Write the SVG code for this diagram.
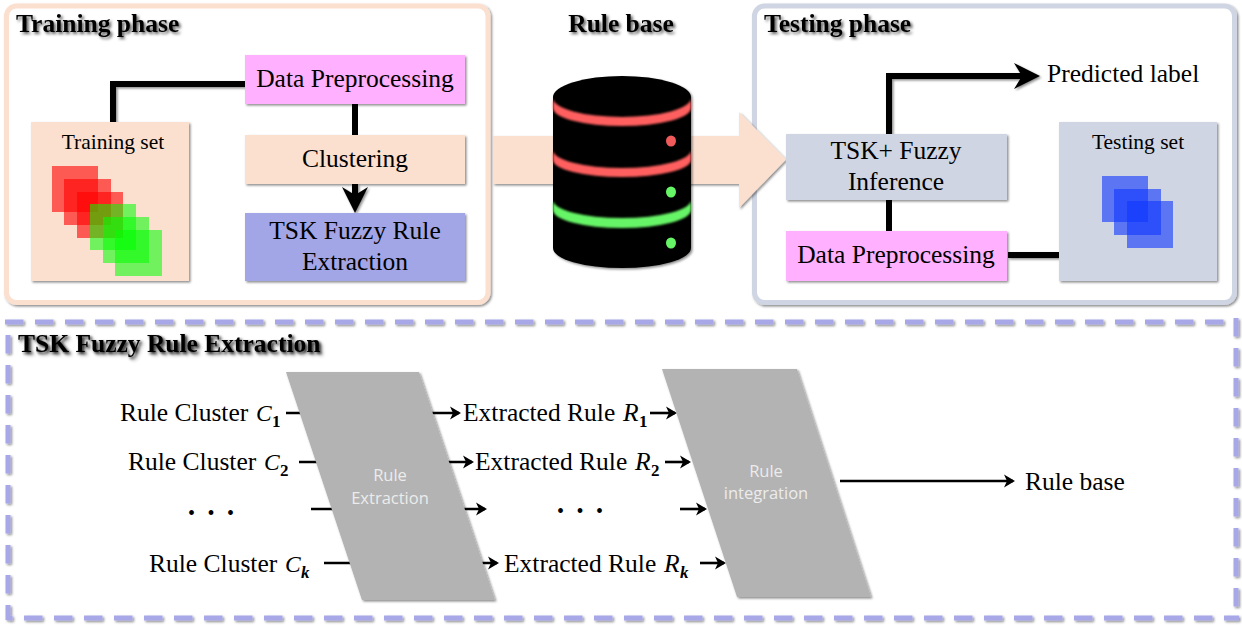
<svg xmlns="http://www.w3.org/2000/svg" width="1242" height="625" viewBox="0 0 1242 625">
<style>
text{font-family:"Liberation Serif","Times New Roman",serif;fill:#000}
.l{font-size:25.500px}
.m{text-anchor:middle}
.s{font-size:21.500px}
.t{font-size:25.500px;font-weight:bold;filter:url(#ts)}
.i{font-style:italic}
.c{font-style:italic;font-size:23.500px}
.u{font-size:17px;font-weight:bold}
.w{font-family:"Open Sans","Noto Sans",sans-serif;font-size:16.500px;fill:#ececec;text-anchor:middle}
.d{font-size:20px;word-spacing:7.500px;text-anchor:middle}
.ph{fill:#fff;stroke-width:5}
.b{filter:url(#sh)}
.pk{fill:#ffb0ff}.pe{fill:#fbe0d0}.bl{fill:#a3a6e6}.gy{fill:#cfd5e2}.pa{fill:#b3b3b3}
.th{fill:none;stroke:#000;stroke-width:6}
.tn{fill:none;stroke:#000;stroke-width:2.600}
.ah{marker-end:url(#sa)}
.bh{marker-end:url(#ba)}
.da{fill:none;stroke:#a8a8e8;stroke-width:5;stroke-dasharray:18.500 11.500}
</style>
<defs>
<filter id="sh" filterUnits="userSpaceOnUse" x="0" y="0" width="1242" height="625"><feDropShadow dx="1.500" dy="1.500" stdDeviation="1" flood-color="#000" flood-opacity=".45"/></filter>
<filter id="ts" filterUnits="userSpaceOnUse" x="0" y="0" width="1242" height="625"><feDropShadow dx="2" dy="2" stdDeviation="1.500" flood-color="#000" flood-opacity=".65"/></filter>
<filter id="bb" filterUnits="userSpaceOnUse" x="0" y="0" width="1242" height="625"><feGaussianBlur stdDeviation=".9"/></filter>
<marker id="sa" markerUnits="userSpaceOnUse" markerWidth="14" markerHeight="14" viewBox="0 -7 14 14" refX="9" refY="0" orient="auto"><path d="M0,-6.500L11,0L0,6.500L3,0Z" fill="#000"/></marker>
<marker id="ba" markerUnits="userSpaceOnUse" markerWidth="28" markerHeight="28" viewBox="0 -14 28 28" refX="18" refY="0" orient="auto"><path d="M0,-13L26,0L0,13L8,0Z" fill="#000"/></marker>
</defs>

<g id="training-phase">
<rect class="ph b" x="6.500" y="6" width="481.500" height="296.500" rx="10" stroke="#fbe0d0"/>
<text class="t" x="16" y="32">Training phase</text>
</g>
<g id="testing-phase">
<rect class="ph b" x="754.500" y="6" width="480" height="296.500" rx="10" stroke="#cfd5e2"/>
<text class="t" x="764" y="32">Testing phase</text>
</g>
<g id="flow-arrow">
<path class="pe b" d="M493,136H739V112L786,159.500L739,208V184H493Z"/>
</g>

<g id="connectors">
<path class="th b" d="M245,84H113V122"/>
<path class="th" d="M355,104V135"/>
<path class="th bh b" d="M355,184V205"/>
<path class="th bh b" d="M889,134V76H1032"/>
<path class="th" d="M889,200V231"/>
<path class="th b" d="M1059,255H1008"/>
<path class="tn ah" d="M286,413H459"/>
<path class="tn ah" d="M299,462H472"/>
<path class="tn ah" d="M311,509H485"/>
<path class="tn ah" d="M324,563H497"/>
<path class="tn ah" d="M650,413H675"/>
<path class="tn ah" d="M665,462H689"/>
<path class="tn ah" d="M680,509H705"/>
<path class="tn ah" d="M700,563H724"/>
<path class="tn ah" d="M840,481H1013"/>
</g>

<g id="training-set">
<rect class="pe b" x="31" y="122" width="158" height="159"/>
<text class="s m" x="113" y="149">Training set</text>
<g fill="#f00" fill-opacity=".6">
<rect x="52" y="166" width="46" height="46"/><rect x="64" y="179" width="47" height="46"/><rect x="77" y="192" width="46" height="46"/>
</g>
<g fill="#0f0" fill-opacity=".55">
<rect x="90" y="204" width="46" height="46"/><rect x="103" y="217" width="46" height="46"/><rect x="115" y="230" width="47" height="46"/>
</g>
</g>
<g id="data-preprocessing-train">
<rect class="pk b" x="245" y="55" width="220" height="49"/>
<text class="l m" x="355" y="87">Data Preprocessing</text>
</g>
<g id="clustering">
<rect class="pe b" x="245" y="135" width="220" height="49"/>
<text class="l m" x="355" y="167">Clustering</text>
</g>
<g id="tsk-extraction">
<rect class="bl b" x="245" y="213" width="220" height="68"/>
<text class="l m" x="355" y="239">TSK Fuzzy Rule</text>
<text class="l m" x="355" y="270">Extraction</text>
</g>

<g id="rule-base">
<text class="t m" x="621" y="32">Rule base</text>
<path class="b" fill="#000" d="M553,97A69,21 0 0 1 691,97V248A69,20 0 0 1 553,248Z"/>
<path fill="#ff5f5f" filter="url(#bb)" d="M553,98A69,19 0 0 0 691,98V108A69,18 0 0 1 553,108Z"/>
<path fill="#ff5f5f" filter="url(#bb)" d="M553,150A69,18 0 0 0 691,150V160A69,17 0 0 1 553,160Z"/>
<path fill="#66f566" filter="url(#bb)" d="M553,200A69,18 0 0 0 691,200V210A69,18 0 0 1 553,210Z"/>
<ellipse cx="671" cy="141" rx="5" ry="5.500" fill="#f05a5a"/>
<ellipse cx="671" cy="192" rx="5" ry="5.500" fill="#66f566"/>
<ellipse cx="671" cy="243" rx="5" ry="5.500" fill="#66f566"/>
</g>

<g id="predicted-label"><text class="l" x="1047" y="82">Predicted label</text></g>
<g id="tsk-inference">
<rect class="gy b" x="786" y="134" width="221" height="66"/>
<text class="l m" x="896" y="159">TSK+ Fuzzy</text>
<text class="l m" x="896" y="190">Inference</text>
</g>
<g id="data-preprocessing-test">
<rect class="pk b" x="786" y="231" width="221" height="50"/>
<text class="l m" x="896" y="263">Data Preprocessing</text>
</g>
<g id="testing-set">
<rect class="gy b" x="1059" y="122" width="158" height="159"/>
<text class="s m" x="1138" y="149">Testing set</text>
<g fill="#0f37ff" fill-opacity=".6">
<rect x="1102" y="176" width="46" height="46"/><rect x="1114" y="189" width="47" height="46"/><rect x="1127" y="201" width="46" height="47"/>
</g>
</g>

<g id="extraction-frame" class="b">
<path class="da" d="M5,322H1236"/>
<path class="da" d="M1236,318V612"/>
<path class="da" d="M8,335V620"/>
<path class="da" d="M8,618H1239" stroke-dashoffset="14"/>
<text class="t" x="18" y="352">TSK Fuzzy Rule Extraction</text>
</g>

<g id="rule-extraction">
<path class="pa b" d="M286,372H419L495,600H362Z"/>
<text class="w" x="390" y="481">Rule</text>
<text class="w" x="390" y="504">Extraction</text>
</g>
<g id="rule-integration">
<path class="pa b" d="M662,369H797L871,597H737Z"/>
<text class="w" x="766" y="477">Rule</text>
<text class="w" x="766" y="499">integration</text>
</g>

<g id="cluster-labels">
<text class="l" x="120" y="421">Rule Cluster <tspan class="c" x="256">C</tspan><tspan class="u" x="272" y="427">1</tspan></text>
<text class="l" x="128" y="470">Rule Cluster <tspan class="c" x="264">C</tspan><tspan class="u" x="280" y="476">2</tspan></text>
<text class="d" x="211" y="520">• • •</text>
<text class="l" x="149" y="572">Rule Cluster <tspan class="c" x="285">C</tspan><tspan class="u i" x="301" y="578">k</tspan></text>
</g>
<g id="rule-labels">
<text class="l" x="463" y="421">Extracted Rule <tspan class="i" x="623">R</tspan><tspan class="u" x="639" y="427">1</tspan></text>
<text class="l" x="475" y="470">Extracted Rule <tspan class="i" x="635">R</tspan><tspan class="u" x="651" y="476">2</tspan></text>
<text class="d" x="580" y="518">• • •</text>
<text class="l" x="504" y="572">Extracted Rule <tspan class="i" x="664">R</tspan><tspan class="u i" x="680" y="578">k</tspan></text>
</g>
<g id="rule-base-output"><text class="l" x="1025" y="490">Rule base</text></g>
</svg>
